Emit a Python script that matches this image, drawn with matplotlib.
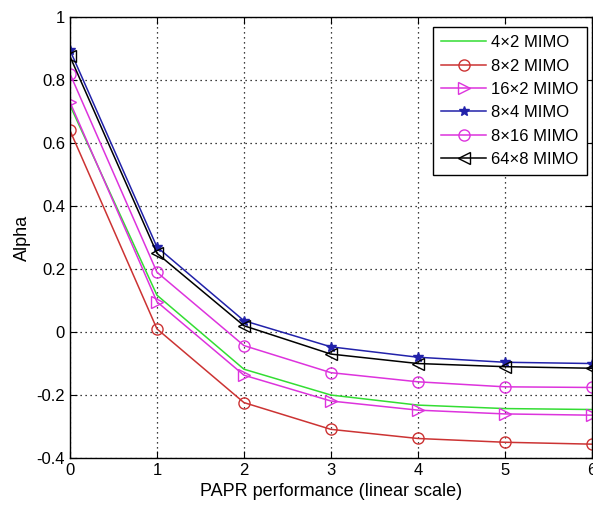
import matplotlib
matplotlib.use("Agg")
import matplotlib.pyplot as plt

x = [0, 1, 2, 3, 4, 5, 6]
labels = ["4×2 MIMO", "8×2 MIMO", "16×2 MIMO", "8×4 MIMO", "8×16 MIMO", "64×8 MIMO"]
y_4x2 = [0.72, 0.117, -0.118, -0.200, -0.232, -0.243, -0.246]
y_8x2 = [0.64, 0.010, -0.224, -0.309, -0.338, -0.350, -0.356]
y_16x2 = [0.73, 0.096, -0.137, -0.219, -0.248, -0.260, -0.264]
y_8x4 = [0.895, 0.270, 0.036, -0.047, -0.080, -0.096, -0.100]
y_8x16 = [0.82, 0.190, -0.043, -0.129, -0.158, -0.174, -0.176]
y_64x8 = [0.875, 0.250, 0.020, -0.070, -0.100, -0.110, -0.115]

plt.rcParams['font.family'] = ['Liberation Sans', 'DejaVu Sans']

fig = plt.figure(figsize=(5.93, 5.08), dpi=100)
ax = fig.add_axes([0.118, 0.0984, 0.880, 0.868])

series = [
    (y_4x2, dict(color='#33dd33', marker=None)),
    (y_8x2, dict(color='#cc3333', marker='o', mfc='none', ms=8)),
    (y_16x2, dict(color='#dd33dd', marker='>', mfc='none', ms=8)),
    (y_8x4, dict(color='#2222aa', marker='*', ms=7)),
    (y_8x16, dict(color='#dd33dd', marker='o', mfc='none', ms=8)),
    (y_64x8, dict(color='black', marker='<', mfc='none', ms=8)),
]
for (ys, st), lab in zip(series, labels):
    ax.plot(x, ys, lw=1.1, label=lab, **st)

ax.set_xlim(0, 6)
ax.set_ylim(-0.4, 1)
ax.set_xticks(range(0, 7))
ax.set_yticks([-0.4, -0.2, 0, 0.2, 0.4, 0.6, 0.8, 1])
ax.set_yticklabels(['-0.4', '-0.2', '0', '0.2', '0.4', '0.6', '0.8', '1'])
ax.grid(True, linestyle=(0, (1, 3)), color='black', linewidth=0.9)
ax.tick_params(direction='in', labelsize=12, length=5, top=True, right=True)
for s in ax.spines.values():
    s.set_linewidth(1.0)
ax.set_xlabel('PAPR performance (linear scale)', fontsize=13)
ax.set_ylabel('Alpha', fontsize=13)

leg = ax.legend(loc='upper right', bbox_to_anchor=(587 / 593, 1 - 27 / 508),
                bbox_transform=fig.transFigure, borderaxespad=0,
                fontsize=12, frameon=True, fancybox=False,
                edgecolor='black', framealpha=1, borderpad=0.5,
                handlelength=2.7, labelspacing=0.5, handletextpad=0.3)
leg.get_frame().set_linewidth(1.0)

fig.savefig('out.png', dpi=100)
